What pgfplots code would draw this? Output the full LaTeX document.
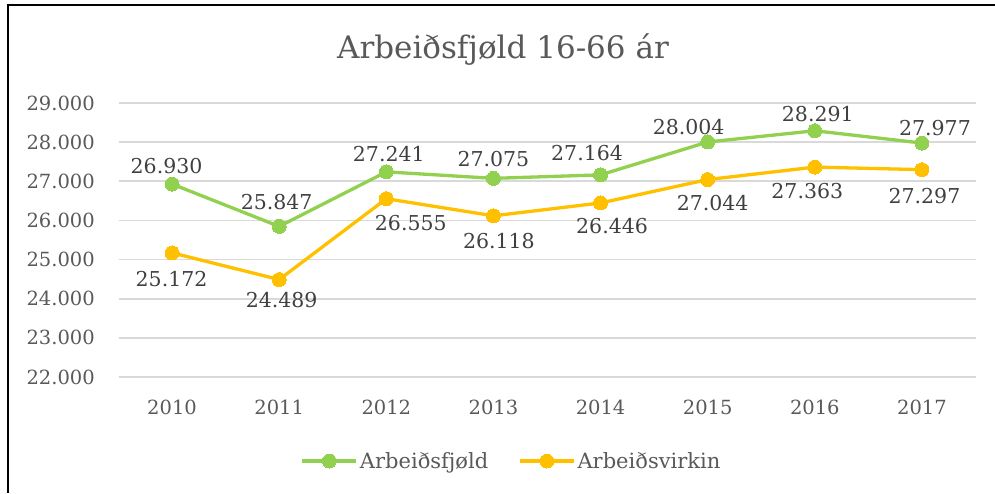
\documentclass[border=0pt]{standalone}
\usepackage{pgfplots}
\usepackage{pgfplotstable}
\pgfplotsset{compat=1.18}
\usepackage{fontspec}
\setmainfont{DejaVu Serif}
\definecolor{grn}{HTML}{92D050}
\definecolor{org}{HTML}{FFC000}
\definecolor{txt}{HTML}{595959}
\definecolor{lbl}{HTML}{404040}
\definecolor{grd}{HTML}{D9D9D9}
\pgfplotstableread{
x y dx dy
0 26930 -5.5 11
1 25847 -2.5 17
2 27241 2.5 10
3 27075 0 12
4 27164 -13.5 14
5 28004 -19 7
6 28291 3 9
7 27977 13 8
}\green
\pgfplotstableread{
x y dx dy
0 25172 -0.5 -18
1 24489 2.5 -13
2 26555 24.5 -17
3 26118 5.5 -17
4 26446 11.5 -15
5 27044 5 -16
6 27363 -7.5 -16
7 27297 2.5 -19
}\orange
\begin{document}
\begin{tikzpicture}[x=1pt,y=1pt]
\useasboundingbox (0,0) rectangle (995,493);
\draw[line width=2pt] (7.5,0) -- (7.5,488) -- (995,488);
\node[anchor=base, text=txt, font=\fontsize{31}{36}\selectfont, inner sep=0pt] at (503,434) {Arbeiðsfjøld 16-66 ár};
\begin{axis}[
  at={(118.5pt,116pt)}, anchor=south west, scale only axis,
  width=857pt, height=274pt,
  xmin=-0.5, xmax=7.5, ymin=22000, ymax=29000,
  ytick={22000,23000,24000,25000,26000,27000,28000,29000},
  xtick={0,1,2,3,4,5,6,7},
  xticklabels={2010,2011,2012,2013,2014,2015,2016,2017},
  scaled y ticks=false,
  /pgf/number format/.cd, 1000 sep={.}, fixed, precision=0, assume math mode=true,
  /pgfplots/.cd,
  axis line style={draw=none},
  major tick length=0pt,
  ymajorgrids, grid style={grd, line width=1.7pt},
  ticklabel style={font=\fontsize{19.5}{22}\selectfont, text=txt, inner sep=0pt},
  xticklabel style={anchor=north, yshift=-23pt},
  yticklabel style={anchor=east, xshift=-23.5pt},
  clip=false,
  legend columns=2,
  legend style={draw=none, fill=none, at={(0.4586,-0.3066)}, anchor=center,
    font=\fontsize{21}{24}\selectfont, text=txt, inner sep=0pt,
    /tikz/every even column/.append style={column sep=28pt}},
  legend image code/.code={\draw[mark repeat=2, mark phase=2] plot coordinates {(0pt,0pt) (27pt,0pt) (54pt,0pt)};},
  every node near coord/.append style={font=\fontsize{20.5}{24}\selectfont, text=lbl, inner sep=0pt},
]
\addplot[grn, line width=3.3pt, mark=*, mark size=7pt, mark options={solid, fill=grn, draw=grn, line width=0pt},
  visualization depends on={\thisrow{dx} \as \dx},
  visualization depends on={\thisrow{dy} \as \dy},
  nodes near coords, every node near coord/.append style={anchor=base, xshift=\dx pt, yshift=\dy pt}]
  table[x=x, y=y] {\green};
\addlegendentry{Arbeiðsfjøld}
\addplot[org, line width=3.3pt, mark=*, mark size=7pt, mark options={solid, fill=org, draw=org, line width=0pt},
  visualization depends on={\thisrow{dx} \as \dx},
  visualization depends on={\thisrow{dy} \as \dy},
  nodes near coords, every node near coord/.append style={anchor=north, xshift=\dx pt, yshift=\dy pt}]
  table[x=x, y=y] {\orange};
\addlegendentry{Arbeiðsvirkin}
\end{axis}
\end{tikzpicture}
\end{document}
